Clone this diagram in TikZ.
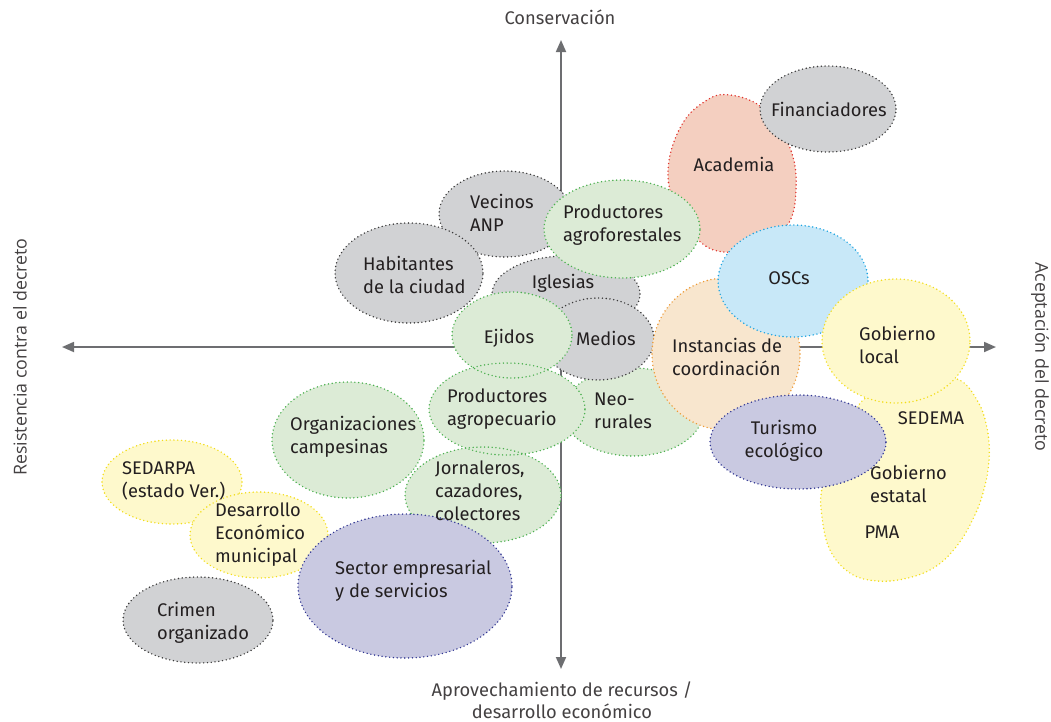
\documentclass[tikz,border=0pt]{standalone}
\usepackage{fontspec}
\setmainfont{Fira Sans}
\newfontfamily\sidefont{Open Sans}
\usetikzlibrary{shapes.geometric,arrows.meta}
\definecolor{gfill}{HTML}{D1D2D4}
\definecolor{gline}{HTML}{3A3A3A}
\definecolor{grfill}{HTML}{DCEBD6}
\definecolor{grline}{HTML}{4CB050}
\definecolor{rfill}{HTML}{F4CFC0}
\definecolor{rline}{HTML}{E0302A}
\definecolor{bfill}{HTML}{C8E8F8}
\definecolor{bline}{HTML}{1BA3E0}
\definecolor{pfill}{HTML}{F8E6CE}
\definecolor{pline}{HTML}{EE9A35}
\definecolor{yfill}{HTML}{FEF9CC}
\definecolor{yline}{HTML}{F2DD1A}
\definecolor{vfill}{HTML}{C9C9E1}
\definecolor{vline}{HTML}{2F3592}
\definecolor{axisc}{HTML}{6D6E71}
\definecolor{txt}{HTML}{231F20}
\tikzset{
  dots/.style={line width=1.6pt, dash pattern=on 0pt off 3.8pt, line cap=round},
  blob/.style={ellipse, inner sep=0pt, dots},
  grayb/.style={blob, fill=gfill, draw=gline},
  greenb/.style={blob, fill=grfill, draw=grline},
  redb/.style={dots, fill=rfill, draw=rline},
  blueb/.style={blob, fill=bfill, draw=bline},
  peachb/.style={blob, fill=pfill, draw=pline},
  yellowb/.style={blob, fill=yfill, draw=yline},
  yellowp/.style={dots, fill=yfill, draw=yline},
  violetb/.style={blob, fill=vfill, draw=vline},
  lbl/.style={align=left, inner sep=0pt, text=txt, font=\fontsize{18.3}{23}\selectfont},
  clbl/.style={lbl, align=center},
  axl/.style={inner sep=0pt, text=txt!85, font=\fontsize{18.3}{22}\selectfont, align=center},
  sidel/.style={inner sep=0pt, text=txt!85, font=\sidefont\fontsize{17.8}{20}\selectfont},
  axisline/.style={draw=axisc, line width=1.8pt, -{Triangle[length=12pt,width=10pt]}},
}
\begin{document}
\begin{tikzpicture}[x=1pt,y=-1pt]
\useasboundingbox (0,0) rectangle (1051,721);
% axes
\coordinate (o) at (561,347);
\coordinate (axL) at (62,347);
\coordinate (axR) at (996,347);
\coordinate (axT) at (561,40);
\coordinate (axB) at (561,669);
\draw[axisline] (o) -- (axL);
\draw[axisline] (o) -- (axR);
\draw[axisline] (o) -- (axT);
\draw[axisline] (o) -- (axB);
% academia blob
\draw[redb] plot[smooth cycle, tension=0.7] coordinates {(730,95) (765,110) (790,148) (796,190) (787,226) (760,246) (724,252) (698,240) (678,212) (668,172) (680,128) (704,102)};
\coordinate (acad) at (734,164);
\node[grayb, minimum width=136pt, minimum height=86pt] (fin) at (828,109) {};
\node[grayb, minimum width=132pt, minimum height=86pt] (vec) at (505,214) {};
\node[grayb, minimum width=148pt, minimum height=100pt] (hab) at (409,273) {};
\node[grayb, minimum width=148pt, minimum height=76pt] (igl) at (566,294) {};
\node[greenb, minimum width=156pt, minimum height=98pt] (pagf) at (622,229) {};
\node[greenb, minimum width=140pt, minimum height=88pt] (neo) at (633,412) {};
\node[grayb, minimum width=112pt, minimum height=82pt] (med) at (598,339) {};
\node[greenb, minimum width=156pt, minimum height=92pt] (pagr) at (507,409) {};
\node[greenb, minimum width=120pt, minimum height=86pt] (eji) at (512,335) {};
\begin{scope}
  \clip (512,335) ellipse (60pt and 43pt);
  \draw[dots, draw=grline] (507,409) ellipse (78pt and 46pt);
\end{scope}
\node[greenb, minimum width=152pt, minimum height=116pt] (org) at (348,440) {};
\node[greenb, minimum width=156pt, minimum height=96pt] (jor) at (483,495) {};
\begin{scope}
  \clip (483,495) ellipse (78pt and 48pt);
  \draw[dots, draw=grline] (507,409) ellipse (78pt and 46pt);
\end{scope}
\node[peachb, minimum width=148pt, minimum height=152pt] (ins) at (726,354) {};
\node[blueb, minimum width=150pt, minimum height=112pt] (osc) at (793,281) {};
% gobierno estatal blob
\draw[yellowp] plot[smooth cycle, tension=0.65] coordinates {(870,395) (920,379) (957,379) (977,400) (987,428) (989,460) (983,493) (972,521) (956,547) (935,567) (908,578) (877,581) (850,573) (830,550) (822,517) (822,488) (834,452) (850,420)};
\node[yellowb, minimum width=148pt, minimum height=124pt] (gloc) at (896,341) {};
\node[violetb, minimum width=176pt, minimum height=94pt] (tur) at (798,442) {};
\node[yellowb, minimum width=140pt, minimum height=84pt] (sed) at (172,482) {};
\node[yellowb, minimum width=138pt, minimum height=86pt] (des) at (259,535) {};
\node[violetb, minimum width=214pt, minimum height=144pt] (sec) at (405,586) {};
\node[grayb, minimum width=150pt, minimum height=86pt] (cri) at (198,620) {};
% labels
\node[lbl, anchor=west] (tfin) at (771,109) {Financiadores};
\node[lbl] (tacad) at (acad) {Academia};
\node[lbl, anchor=west] (tvec) at (470,213) {Vecinos\\ANP};
\node[lbl, anchor=west] (tpagf) at (563,225) {Productores\\agroforestales};
\node[lbl, anchor=west] (thab) at (363,275) {Habitantes\\de la ciudad};
\node[lbl] (tigl) at (563,283) {Iglesias};
\node[lbl] (teji) at (509,338) {Ejidos};
\node[lbl] (tmed) at (606,338) {Medios};
\node[lbl, anchor=west] (tpagr) at (447,409) {Productores\\agropecuario};
\node[lbl, anchor=west] (tneo) at (594,411) {Neo-\\rurales};
\node[lbl, anchor=west] (tins) at (672,357) {Instancias de\\coordinación};
\node[lbl] (tosc) at (789,278) {OSCs};
\node[lbl, anchor=west] (tgloc) at (859,345) {Gobierno\\local};
\node[lbl] (tsedema) at (931,418) {SEDEMA};
\node[lbl, anchor=west] (tgest) at (870,484) {Gobierno\\estatal};
\node[lbl] (tpma) at (882,532) {PMA};
\node[clbl] (ttur) at (784,441) {Turismo\\ecológico};
\node[lbl, anchor=west] (torg) at (290,437) {Organizaciones\\campesinas};
\node[lbl, anchor=west] (tjor) at (435,491) {Jornaleros,\\cazadores,\\colectores};
\node[lbl, anchor=west] (tsed) at (122,481) {SEDARPA\\(estado Ver.)};
\node[lbl, anchor=west] (tdes) at (215,535) {Desarrollo\\Económico\\municipal};
\node[lbl, anchor=west] (tsec) at (335,581) {Sector empresarial\\y de servicios};
\node[lbl, anchor=west] (tcri) at (157,623) {Crimen\\organizado};
% axis labels
\node[axl] (lcons) at (560,17) {Conservación};
\node[axl] (lapro) at (562,700) {Aprovechamiento de recursos /\\desarrollo económico};
\node[sidel, rotate=90] (lres) at (20,357) {Resistencia contra el decreto};
\node[sidel, rotate=-90] (lacep) at (1040,357) {Aceptación del decreto};
\end{tikzpicture}
\end{document}
